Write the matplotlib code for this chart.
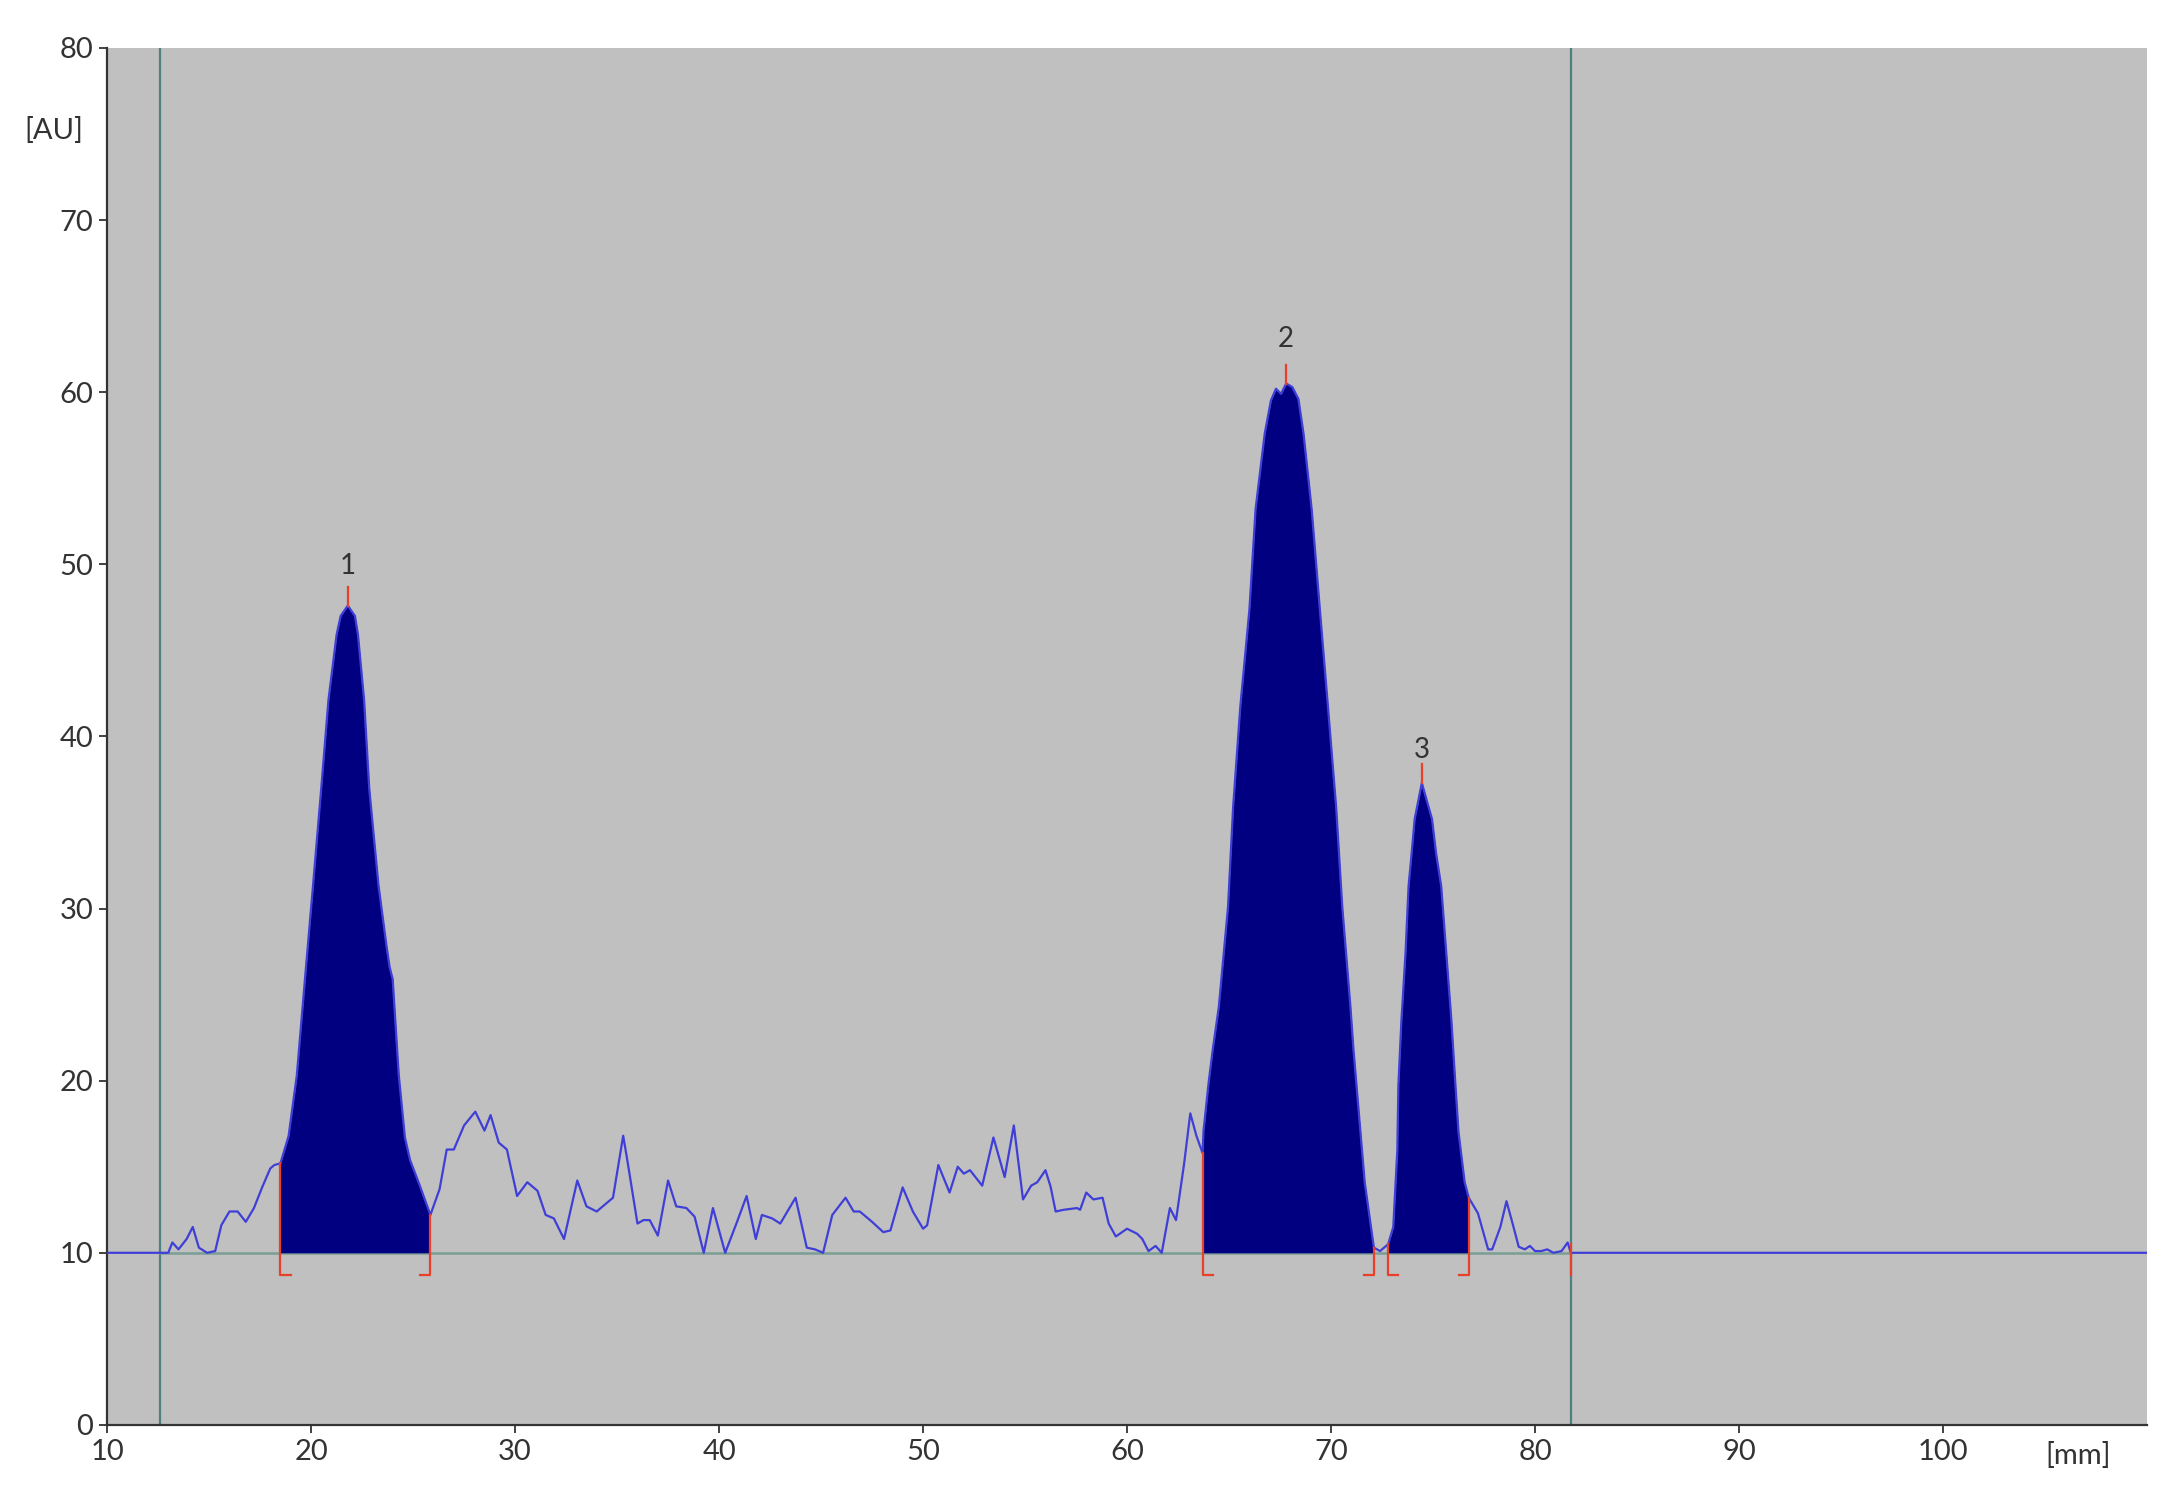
import numpy as np
import matplotlib
matplotlib.use("Agg")
import matplotlib.pyplot as plt

plt.rcParams['font.family'] = ['Lato', 'DejaVu Sans']

# densitogram trace (mm, AU)
trace_x = [10.0, 12.6, 13.0, 13.2, 13.5, 13.9, 14.2, 14.5, 14.9, 15.3, 15.6, 16.0, 16.4, 16.8,
           17.2, 17.6, 18.0, 18.2, 18.5,
           18.9, 19.3, 19.7, 20.1, 20.5, 20.85, 21.25, 21.45, 21.8, 22.15, 22.3, 22.6, 22.85,
           23.3, 23.7, 23.85, 24.0, 24.3, 24.6, 24.85, 25.3, 25.85,
           26.3, 26.65, 27.0, 27.5, 28.05, 28.5, 28.8, 29.2, 29.6, 30.1, 30.6, 31.1, 31.5, 31.9,
           32.4, 33.05, 33.5, 34.0, 34.5, 34.8, 35.3, 35.5, 36.0, 36.3, 36.6, 37.0, 37.5, 37.9,
           38.4, 38.8, 39.25, 39.7, 40.3, 40.85, 41.35, 41.8, 42.1, 42.6, 43.0, 43.75, 44.3, 44.7,
           45.1, 45.55, 46.2, 46.6, 46.9, 47.5, 48.05, 48.4, 49.0, 49.5, 50.0, 50.2, 50.75, 51.3,
           51.7, 52.0, 52.3, 52.9, 53.45, 54.0, 54.45, 54.9, 55.3, 55.6, 56.0, 56.25, 56.5, 56.9,
           57.55, 57.7, 58.0, 58.35, 58.8, 59.1, 59.45, 60.0, 60.5, 60.75, 61.05, 61.4, 61.7,
           62.1, 62.4, 62.8, 63.1, 63.4, 63.7,
           63.75, 64.0, 64.2, 64.5, 64.95, 65.2, 65.55, 66.0, 66.3, 66.75, 67.05, 67.3, 67.55, 67.8,
           68.1, 68.4, 68.65, 69.05, 69.45, 69.85, 70.25, 70.55, 70.95, 71.1, 71.25, 71.65, 72.1,
           72.4, 72.8,
           73.05, 73.25, 73.3, 73.45, 73.65, 73.8, 73.95, 74.1, 74.45, 74.95, 75.15, 75.4, 75.65,
           75.9, 76.1, 76.25, 76.55, 76.75,
           77.2, 77.7, 77.9, 78.3, 78.6, 78.9, 79.2, 79.5, 79.75, 80.0, 80.3, 80.6, 80.9, 81.3,
           81.6, 81.75, 110.0]
trace_y = [10.0, 10.0, 10.0, 10.6, 10.2, 10.8, 11.5, 10.3, 10.0, 10.1, 11.6, 12.4, 12.4, 11.8,
           12.6, 13.8, 14.9, 15.1, 15.2,
           16.8, 20.3, 25.9, 31.4, 37.0, 42.1, 45.9, 47.0, 47.6, 47.0, 45.9, 42.1, 37.0,
           31.4, 27.8, 26.6, 25.9, 20.3, 16.7, 15.4, 14.0, 12.2,
           13.7, 16.0, 16.0, 17.4, 18.2, 17.1, 18.0, 16.4, 16.0, 13.3, 14.1, 13.6, 12.2, 12.0,
           10.8, 14.2, 12.7, 12.4, 12.9, 13.2, 16.8, 15.4, 11.7, 11.9, 11.9, 11.0, 14.2, 12.7,
           12.6, 12.1, 10.0, 12.6, 10.0, 11.7, 13.3, 10.8, 12.2, 12.0, 11.7, 13.2, 10.3, 10.2,
           10.0, 12.2, 13.2, 12.4, 12.4, 11.8, 11.2, 11.3, 13.8, 12.4, 11.4, 11.6, 15.1, 13.5,
           15.0, 14.6, 14.8, 13.9, 16.7, 14.4, 17.4, 13.1, 13.9, 14.1, 14.8, 13.85, 12.4, 12.5,
           12.6, 12.5, 13.5, 13.1, 13.2, 11.7, 10.95, 11.4, 11.1, 10.8, 10.1, 10.4, 10.0,
           12.6, 11.9, 15.2, 18.1, 16.8, 15.8,
           17.1, 19.9, 21.8, 24.3, 30.1, 35.9, 41.7, 47.4, 53.2, 57.6, 59.5, 60.2, 59.9, 60.5,
           60.3, 59.6, 57.6, 53.2, 47.4, 41.7, 35.9, 30.1, 24.3, 21.8, 19.7, 14.1, 10.3,
           10.1, 10.5,
           11.5, 16.0, 19.7, 23.5, 27.4, 31.3, 33.2, 35.2, 37.3, 35.2, 33.2, 31.3, 27.4,
           23.5, 19.7, 17.0, 14.1, 13.2,
           12.3, 10.2, 10.2, 11.5, 13.0, 11.7, 10.35, 10.2, 10.4, 10.1, 10.1, 10.2, 10.0, 10.1,
           10.6, 10.0, 10.0]

baseline = 10.0
peak_labels = ['1', '2', '3']
peak_start = [18.5, 63.7, 72.8]
peak_end = [25.85, 72.1, 76.75]
peak_apex_x = [21.8, 67.8, 74.45]
peak_apex_y = [47.6, 60.5, 37.3]
track_start = 12.6
track_end = 81.75

x = np.array(trace_x)
y = np.array(trace_y)

fig = plt.figure(figsize=(21.72, 14.96), dpi=100)
ax = fig.add_axes([0.0493, 0.0475, 0.9392, 0.9205])
ax.set_facecolor('#c0c0c0')

ax.axvline(track_start, color='#4f8080', lw=1.6, zorder=1)
ax.axvline(track_end, color='#4f8080', lw=1.6, zorder=1)
ax.plot([track_start, track_end], [baseline, baseline], color='#7a9e94', lw=1.8, zorder=1)

for a, b in zip(peak_start, peak_end):
    m = (x >= a) & (x <= b)
    ax.fill_between(x[m], baseline, y[m], color='#000080', lw=0, zorder=2)

ax.plot(x, y, color='#3f3fd8', lw=1.6, zorder=3)

# integration brackets
red = '#e8402a'
foot_y = 8.7
for a, b in zip(peak_start, peak_end):
    ya = np.interp(a, x, y)
    yb = np.interp(b, x, y)
    ax.plot([a + 0.5, a, a], [foot_y, foot_y, ya], color=red, lw=1.6, zorder=4)
    ax.plot([b - 0.5, b, b], [foot_y, foot_y, yb], color=red, lw=1.6, zorder=4)
ax.plot([track_end, track_end], [baseline + 0.5, foot_y], color=red, lw=1.6, zorder=4)

label_gap = [2.3, 2.6, 1.9]
for lab, px, py, g in zip(peak_labels, peak_apex_x, peak_apex_y, label_gap):
    ax.plot([px, px], [py, py + 1.1], color=red, lw=1.6, zorder=4)
    ax.text(px, py + g, lab, ha='center', va='center', fontsize=20, color='#333333')

ax.set_xlim(10, 110)
ax.set_ylim(0, 80)
ax.set_xticks(np.arange(10, 101, 10))
ax.set_yticks(np.arange(0, 81, 10))
for s in ['top', 'right']:
    ax.spines[s].set_visible(False)
for s in ['left', 'bottom']:
    ax.spines[s].set_color('#333333')
    ax.spines[s].set_linewidth(1.6)
ax.tick_params(direction='out', length=6, width=1.3, color='#333333',
               labelsize=21, labelcolor='#333333')
ax.tick_params(axis='x', pad=4)
ax.tick_params(axis='y', pad=4)

fig.text(0.025, 0.913, '[AU]', fontsize=21, color='#333333', ha='center', va='center')
fig.text(0.957, 0.027, '[mm]', fontsize=21, color='#333333', ha='center', va='center')

fig.savefig('out.png', dpi=100, facecolor='white')
